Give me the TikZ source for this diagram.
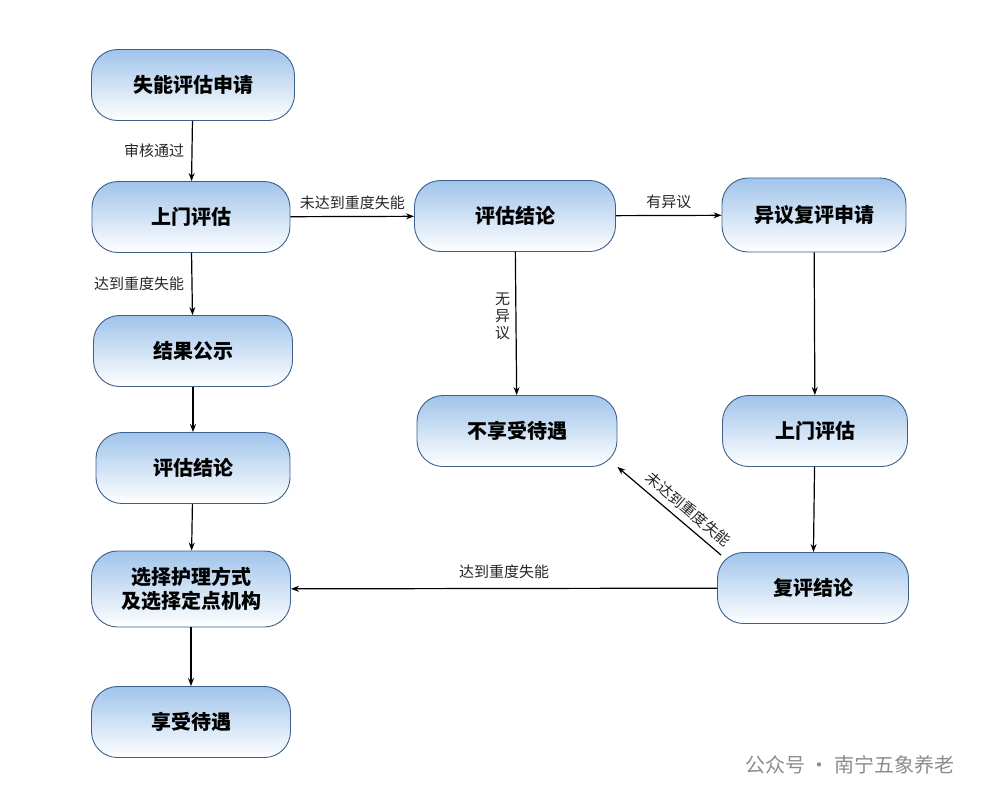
\documentclass[tikz,border=0pt]{standalone}
\usepackage{fontspec}
\setmainfont{Noto Sans CJK SC}
\usetikzlibrary{arrows.meta}
\definecolor{bd}{RGB}{60,95,140}
\definecolor{lb}{RGB}{160,196,235}
\begin{document}
\begin{tikzpicture}[x=1pt,y=-1pt,
 box/.style={draw=bd,line width=0.9pt,rounded corners=26pt,top color=lb,bottom color=white,shading angle=0,minimum height=71pt,font=\bfseries\fontsize{20}{24}\selectfont,align=center},
 arr/.style={-{Stealth[length=8pt,width=6pt]},line width=1.2pt},
 lab/.style={font=\fontsize{15}{17}\selectfont,text=black!85}]
\useasboundingbox (0,0) rectangle (987,803);
\node[box,minimum width=203pt] (a) at (193,85) {失能评估申请};
\node[box,minimum width=198pt] (b) at (191,217) {上门评估};
\node[box,minimum width=199pt] (c) at (193,351) {结果公示};
\node[box,minimum width=194pt] (d) at (193,468) {评估结论};
\node[box,minimum width=199pt,minimum height=76pt] (e) at (191,589) {选择护理方式\\及选择定点机构};
\node[box,minimum width=199pt] (f) at (191,722) {享受待遇};
\node[box,minimum width=201pt] (g) at (515,216) {评估结论};
\node[box,minimum width=200pt] (h) at (517,431) {不享受待遇};
\node[box,minimum width=184pt,minimum height=74pt] (i) at (814,215) {异议复评申请};
\node[box,minimum width=185pt] (j) at (815,431) {上门评估};
\node[box,minimum width=191pt] (k) at (813,588) {复评结论};
\draw[arr] (a) -- node[lab,left=4pt]{审核通过} (b);
\draw[arr] (b) -- node[lab,left=4pt]{达到重度失能} (c);
\draw[arr] (c) -- (d);
\draw[arr] (d) -- (e);
\draw[arr] (e) -- (f);
\draw[arr] (b) -- node[lab,above=3pt]{未达到重度失能} (g);
\draw[arr] (g) -- node[lab,above=3pt]{有异议} (i);
\draw[arr] (g) -- node[lab,left=2pt,align=center,pos=0.45]{无\\异\\议} (h);
\draw[arr] (i) -- (j);
\draw[arr] (j) -- (k);
\draw[arr] (k.north west) ++(4,3) coordinate (ks) (ks) -- node[lab,sloped,above=3pt,pos=0.4]{未达到重度失能} (h.south east);
\draw[arr] (k) -- node[lab,above=6pt]{达到重度失能} (e);
\node[font=\fontsize{20}{24}\selectfont,text=black!45,anchor=east] (w) at (958,765) {公众号 · 南宁五象养老};
\end{tikzpicture}
\end{document}
